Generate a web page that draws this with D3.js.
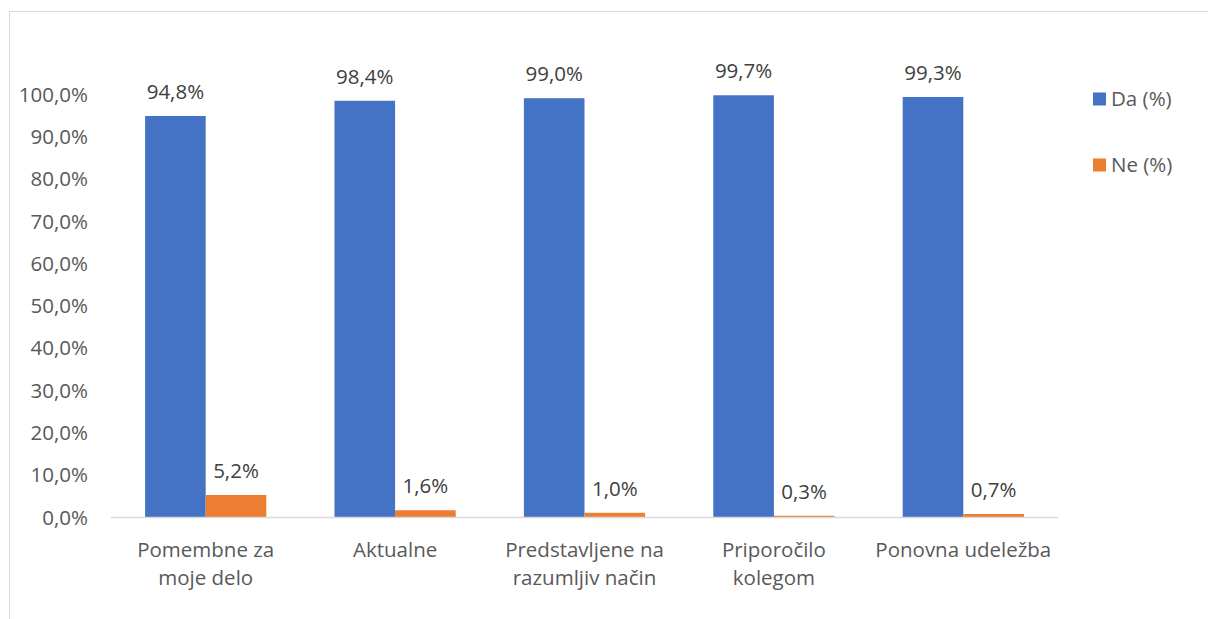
<!DOCTYPE html>
<html><head><meta charset="utf-8">
<script src="https://cdn.jsdelivr.net/npm/d3@7"></script>
<style>body{margin:0;background:#fff}svg{display:block}</style>
</head><body>
<svg id="c" width="1208" height="619"></svg>
<script>
const categories = [["Pomembne za","moje delo"],["Aktualne"],["Predstavljene na","razumljiv način"],["Priporočilo","kolegom"],["Ponovna udeležba"]];
const seriesNames = ["Da (%)","Ne (%)"];
const daValues = [94.8, 98.4, 99.0, 99.7, 99.3];
const neValues = [5.2, 1.6, 1.0, 0.3, 0.7];
const yTicks = [0,10,20,30,40,50,60,70,80,90,100];
const colors = ["#4472C4","#ED7D31"];

(function(){
const svg = d3.select("#c");
const font = "'Open Sans', sans-serif";
const fs = 20.5;
svg.append("rect").attr("x",9.5).attr("y",11.5).attr("width",1300).attr("height",700)
  .attr("fill","none").attr("stroke","#d9d9d9").attr("stroke-width",1);

const pL=111, pR=1058, pT=94, pB=517;
const x0 = d3.scaleBand().domain(d3.range(categories.length)).range([pL,pR]);
const bw = x0.bandwidth()*0.32;
const y = d3.scaleLinear().domain([0,100]).range([pB,pT]);
const fmt = v => v.toFixed(1).replace(".",",");

const yAxis = d3.axisLeft(y).tickValues(yTicks).tickSize(0).tickPadding(0).tickFormat(d=>fmt(d)+"%");
const ga = svg.append("g").attr("transform",`translate(88,0)`).call(yAxis);
ga.select(".domain").remove();
ga.selectAll("text").attr("font-family",font).attr("font-size",fs).attr("fill","#595959").attr("dy","0.35em");

const data = [daValues, neValues];
data.forEach((vals,si)=>{
  const g = svg.append("g");
  g.selectAll("rect").data(vals).join("rect")
    .attr("x",(d,i)=>x0(i)+x0.bandwidth()/2 - bw + si*bw)
    .attr("width",bw)
    .attr("y",d=>y(d)).attr("height",d=>pB-y(d))
    .attr("fill",colors[si]);
  g.selectAll("text").data(vals).join("text")
    .attr("x",(d,i)=>x0(i)+x0.bandwidth()/2 - bw/2 + si*bw)
    .attr("y",d=>y(d)-17)
    .attr("text-anchor","middle")
    .attr("font-family",font).attr("font-size",fs).attr("fill","#404040")
    .text(d=>fmt(d)+"%");
});

svg.append("line").attr("x1",pL).attr("x2",pR).attr("y1",pB+0.5).attr("y2",pB+0.5)
  .attr("stroke","#d9d9d9").attr("stroke-width",1.5);

const cl = svg.append("g");
categories.forEach((lines,i)=>{
  const t = cl.append("text").attr("text-anchor","middle")
    .attr("font-family",font).attr("font-size",fs).attr("fill","#595959");
  lines.forEach((ln,j)=>{
    t.append("tspan").attr("x",x0(i)+x0.bandwidth()/2).attr("y",557+j*28).text(ln);
  });
});

const lg = svg.append("g");
seriesNames.forEach((n,i)=>{
  const yy = 99 + i*66;
  lg.append("rect").attr("x",1093).attr("y",yy-6.5).attr("width",13).attr("height",13).attr("fill",colors[i]);
  lg.append("text").attr("x",1111).attr("y",yy).attr("dy","0.35em")
    .attr("font-family",font).attr("font-size",fs).attr("fill","#595959").text(n);
});
})();
</script>
</body></html>
